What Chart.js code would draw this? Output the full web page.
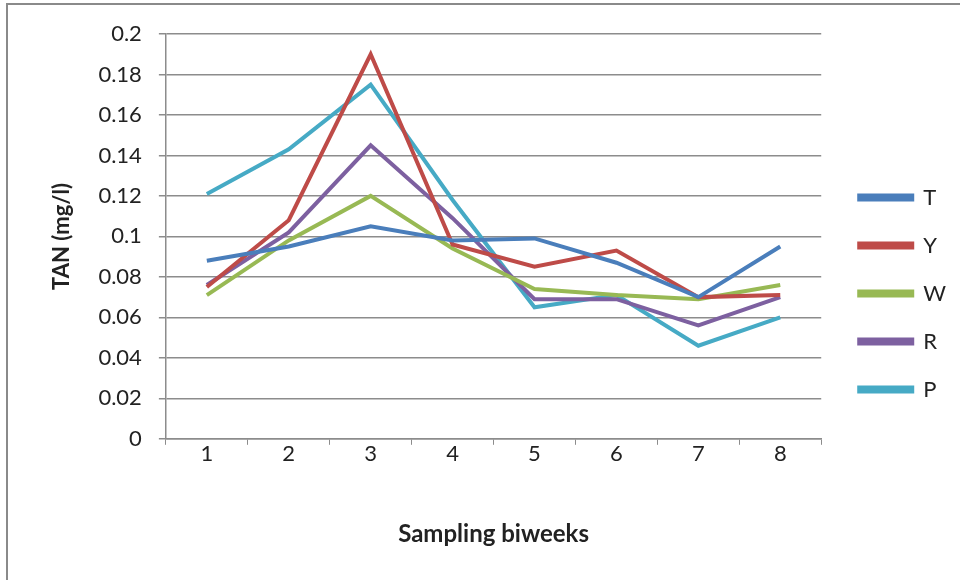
<!DOCTYPE html>
<html>
<head>
<meta charset="utf-8">
<script src="https://cdn.jsdelivr.net/npm/chart.js@4/dist/chart.umd.min.js"></script>
<style>
  html, body { margin: 0; padding: 0; background: #fff; }
  #wrap { position: relative; width: 960px; height: 580px; }
  #frame { position: absolute; left: 6px; top: 3px; right: 0; bottom: 0;
           border-left: 2px solid #8a8a8a; border-top: 2px solid #8a8a8a; }
  canvas { position: absolute; left: 0; top: 0; }
</style>
</head>
<body>
<div id="wrap">
  <div id="frame"></div>
  <canvas id="tanChart" width="960" height="580"></canvas>
</div>
<script>
const biweeks = ['1', '2', '3', '4', '5', '6', '7', '8'];

const seriesT = [0.088, 0.095, 0.105, 0.098, 0.099, 0.087, 0.070, 0.095];
const seriesY = [0.075, 0.108, 0.190, 0.096, 0.085, 0.093, 0.070, 0.071];
const seriesW = [0.071, 0.098, 0.120, 0.094, 0.074, 0.071, 0.069, 0.076];
const seriesR = [0.076, 0.102, 0.145, 0.109, 0.069, 0.069, 0.056, 0.070];
const seriesP = [0.121, 0.143, 0.175, 0.118, 0.065, 0.071, 0.046, 0.060];

const yTicks = [0, 0.02, 0.04, 0.06, 0.08, 0.1, 0.12, 0.14, 0.16, 0.18, 0.2];

const font = 'Lato, "Open Sans", sans-serif';
const gridGray = '#8c8c8c';

function line(label, data, color) {
    return {
        label: label,
        data: data,
        borderColor: color,
        backgroundColor: color,
        borderWidth: 4,
        pointRadius: 0,
        tension: 0,
    };
}

new Chart(document.getElementById('tanChart'), {
    type: 'line',
    data: {
        labels: biweeks,
        datasets: [
            line('T', seriesT, '#4a7ebb'),
            line('Y', seriesY, '#be4b48'),
            line('W', seriesW, '#98b954'),
            line('R', seriesR, '#7d60a0'),
            line('P', seriesP, '#46aac5'),
        ],
    },
    options: {
        responsive: false,
        animation: false,
        layout: { padding: { top: 34, left: 45, right: 4, bottom: 27 } },
        plugins: {
            legend: {
                position: 'right',
                labels: {
                    color: '#222',
                    font: { family: font, size: 22 },
                    boxWidth: 53,
                    boxHeight: 4,
                    padding: 26,
                },
            },
            tooltip: { enabled: false },
        },
        scales: {
            x: {
                offset: true,
                grid: {
                    offset: true,
                    drawOnChartArea: false,
                    color: gridGray,
                    tickLength: 6,
                },
                border: { color: gridGray, width: 1.5 },
                ticks: { color: '#222', font: { family: font, size: 22 }, padding: -4 },
                title: {
                    display: true,
                    text: 'Sampling biweeks',
                    color: '#222',
                    font: { family: font, size: 24, weight: 'bold' },
                    padding: { top: 57 },
                },
            },
            y: {
                min: 0,
                max: 0.2,
                afterBuildTicks: function (axis) {
                    axis.ticks = yTicks.map(v => ({ value: v }));
                },
                grid: { color: gridGray, lineWidth: 1.5, tickLength: 7 },
                border: { color: gridGray, width: 1.5 },
                ticks: {
                    color: '#222',
                    font: { family: font, size: 22 },
                    padding: 17,
                    callback: v => String(+v.toFixed(2)),
                },
                title: {
                    display: true,
                    text: 'TAN (mg/l)',
                    color: '#222',
                    font: { family: font, size: 22, weight: 'bold' },
                    padding: { bottom: 6 },
                },
            },
            // empty right-hand gap between plot and legend
            gap: {
                type: 'linear',
                position: 'right',
                grid: { display: false },
                border: { display: false },
                ticks: { display: false },
                afterFit: s => { s.width = 12; },
            },
        },
    },
});
</script>
</body>
</html>
